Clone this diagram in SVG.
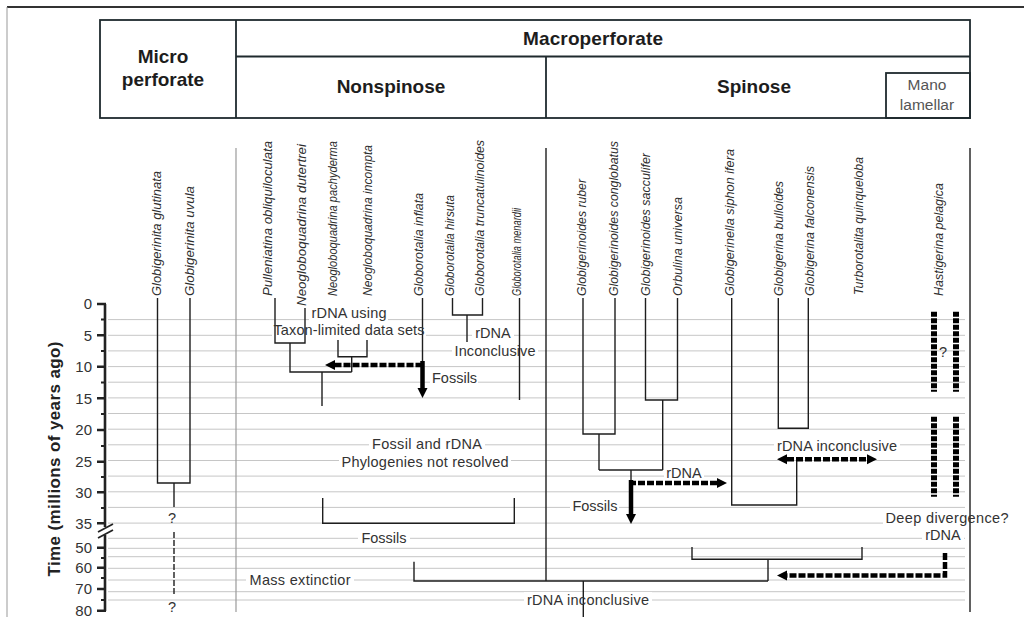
<svg xmlns="http://www.w3.org/2000/svg" width="1024" height="617" viewBox="0 0 1024 617">
<style>
.hdr{fill:none;stroke:#1f2a2e;stroke-width:1.8}
.ht{font-family:"Liberation Sans",Arial,sans-serif;font-weight:bold;font-size:19px;fill:#1d1d1d;text-anchor:middle}
.hs{font-family:"Liberation Sans",Arial,sans-serif;font-size:15.5px;fill:#555;text-anchor:middle}
.sp{font-family:"Liberation Sans",Arial,sans-serif;font-style:italic;font-size:12.5px;fill:#2e2e2e}
.lb{font-family:"Liberation Sans",Arial,sans-serif;font-size:14.5px;fill:#333}
.lbm{font-family:"Liberation Sans",Arial,sans-serif;font-size:14.5px;fill:#333;text-anchor:middle}
.ax{font-family:"Liberation Sans",Arial,sans-serif;font-size:15px;fill:#333;text-anchor:end}
.grid line{stroke:#c6c6c6;stroke-width:1}
.tree{fill:none;stroke:#1e1e1e;stroke-width:1.4}
.thick{fill:none;stroke:#000;stroke-width:4.5}
.dash{stroke-dasharray:7 2}
.bg{fill:#fff}
</style>
<defs>
<marker id="ah" markerUnits="userSpaceOnUse" markerWidth="10" markerHeight="11" viewBox="0 0 10 10" refX="0" refY="5" orient="auto-start-reverse">
<path d="M0,0 L10,5 L0,10 z" fill="#000"/>
</marker>
</defs>
<rect width="1024" height="617" fill="#fff"/>
<line x1="7" y1="7" x2="1024" y2="7" stroke="#333" stroke-width="2"/>
<line x1="7" y1="7" x2="7" y2="617" stroke="#999" stroke-width="1"/>

<g id="header">
<rect class="hdr" x="100" y="20" width="870" height="98"/>
<line class="hdr" x1="236" y1="20" x2="236" y2="118"/>
<line class="hdr" x1="236" y1="56.5" x2="970" y2="56.5"/>
<line class="hdr" x1="546" y1="56.5" x2="546" y2="118"/>
<rect class="hdr" x="886" y="73" width="84" height="45"/>
<text class="ht" x="163" y="63">Micro</text>
<text class="ht" x="163" y="86">perforate</text>
<text class="ht" x="593" y="45" textLength="140">Macroperforate</text>
<text class="ht" x="391" y="93">Nonspinose</text>
<text class="ht" x="754" y="93">Spinose</text>
<text class="hs" x="927" y="90">Mano</text>
<text class="hs" x="927" y="110">lamellar</text>
</g>

<g id="grid" class="grid">
<line x1="108" y1="319.6" x2="965" y2="319.6"/>
<line x1="108" y1="335.3" x2="965" y2="335.3"/>
<line x1="108" y1="350.9" x2="965" y2="350.9"/>
<line x1="108" y1="366.6" x2="965" y2="366.6"/>
<line x1="108" y1="382.2" x2="965" y2="382.2"/>
<line x1="108" y1="397.9" x2="965" y2="397.9"/>
<line x1="108" y1="413.5" x2="965" y2="413.5"/>
<line x1="108" y1="429.2" x2="965" y2="429.2"/>
<line x1="108" y1="444.8" x2="965" y2="444.8"/>
<line x1="108" y1="460.5" x2="965" y2="460.5"/>
<line x1="108" y1="476.1" x2="965" y2="476.1"/>
<line x1="108" y1="491.8" x2="965" y2="491.8"/>
<line x1="108" y1="507.4" x2="965" y2="507.4"/>
<line x1="108" y1="523.1" x2="965" y2="523.1"/>
<line x1="108" y1="538.3" x2="965" y2="538.3"/>
<line x1="108" y1="548.3" x2="965" y2="548.3"/>
<line x1="108" y1="556.7" x2="965" y2="556.7"/>
<line x1="108" y1="568.3" x2="965" y2="568.3"/>
<line x1="108" y1="580" x2="965" y2="580"/>
<line x1="108" y1="591.7" x2="965" y2="591.7"/>
<line x1="108" y1="600" x2="965" y2="600"/>
</g>

<g id="label-backgrounds">
<rect class="bg" x="309" y="305" width="79" height="17"/>
<rect class="bg" x="272" y="322" width="154" height="17"/>
<rect class="bg" x="472" y="325" width="42" height="17"/>
<rect class="bg" x="452" y="343" width="86" height="18"/>
<rect class="bg" x="430" y="370" width="48" height="17"/>
<rect class="bg" x="369" y="436" width="116" height="17"/>
<rect class="bg" x="339" y="454" width="172" height="18"/>
<rect class="bg" x="358" y="530" width="52" height="17"/>
<rect class="bg" x="246" y="572" width="108" height="17"/>
<rect class="bg" x="524" y="592" width="128" height="17"/>
<rect class="bg" x="664" y="465" width="40" height="16"/>
<rect class="bg" x="570" y="497" width="49" height="17"/>
<rect class="bg" x="774" y="438" width="126" height="17"/>
<rect class="bg" x="883" y="510" width="128" height="18"/>
<rect class="bg" x="922" y="527" width="42" height="17"/>
</g>

<g id="dividers">
<line x1="236" y1="148" x2="236" y2="612" stroke="#9a9a9a" stroke-width="1.2"/>
<line x1="546" y1="148" x2="546" y2="581" stroke="#1e1e1e" stroke-width="1.4"/>
<line x1="970" y1="148" x2="970" y2="612" stroke="#1e1e1e" stroke-width="1.4"/>
</g>

<g id="axis">
<text x="60" y="459" transform="rotate(-90 60 459)" font-family="Liberation Sans, Arial, sans-serif" font-weight="bold" font-size="17" fill="#222" text-anchor="middle" textLength="235">Time (millions of years ago)</text>
<path d="M105,304 V527 M105,535 V611" fill="none" stroke="#222" stroke-width="2.6"/>
<path d="M97,304 H106 M97,335.3 H106 M97,366.7 H106 M97,398.3 H106 M97,430 H106 M97,461.7 H106 M97,492.3 H106 M97,523.3 H106 M97,547.7 H106 M97,567.7 H106 M97,589 H106 M97,610.7 H106" stroke="#222" stroke-width="2.4"/>
<path d="M101,319.6 H106 M101,351 H106 M101,382.5 H106 M101,414 H106 M101,446 H106 M101,477 H106 M101,508 H106 M101,558 H106 M101,578 H106 M101,600 H106" stroke="#222" stroke-width="2"/>
<path d="M98,532 L113,524 M98,538 L113,530" stroke="#222" stroke-width="1.8"/>
<text class="ax" x="92" y="309">0</text>
<text class="ax" x="92" y="340.5">5</text>
<text class="ax" x="92" y="372">10</text>
<text class="ax" x="92" y="403.5">15</text>
<text class="ax" x="92" y="435">20</text>
<text class="ax" x="92" y="467">25</text>
<text class="ax" x="92" y="497.5">30</text>
<text class="ax" x="92" y="528.5">35</text>
<text class="ax" x="92" y="553">50</text>
<text class="ax" x="92" y="573">60</text>
<text class="ax" x="92" y="594">70</text>
<text class="ax" x="92" y="616">80</text>
</g>

<g id="connectors">
<g class="tree">
<path d="M157.5,298 V483 H190 V298"/>
<path d="M174,483 V507"/>
<path d="M174,532 V595" stroke-dasharray="6 2"/>
<path d="M275,298 V343 H305 V308"/>
<path d="M290,343 V372 H351.7"/>
<path d="M338,340 V356.7 H367 V340"/>
<path d="M351.7,356.7 V372"/>
<path d="M322,372 V406"/>
<path d="M422.5,298 V362"/>
<path d="M452.5,298 V315 H482.5 V298"/>
<path d="M467,315 V342"/>
<path d="M519.5,298 V400"/>
<path d="M322.7,498 V523.3 H514.3 V498"/>
<path d="M414,561.7 V581 H768"/>
<path d="M692,547 V559.3 H862 V547"/>
<path d="M768,559.3 V581"/>
<path d="M583.3,581 V617"/>
<path d="M583,298 V434 H615 V298"/>
<path d="M599,434 V470"/>
<path d="M645.5,298 V400 H677.5 V298"/>
<path d="M662.7,400 V470"/>
<path d="M599,470 H662.7"/>
<path d="M631,470 V482"/>
<path d="M731.7,298 V505 H796.7 V459"/>
<path d="M778.3,298 V428.3 H808.3 V298"/>
</g>
<path class="thick dash" d="M422.5,365 H335" marker-end="url(#ah)"/>
<path class="thick" d="M422.5,361 V388" marker-end="url(#ah)"/>
<path class="thick" d="M631,480 V514" marker-end="url(#ah)"/>
<path class="thick dash" d="M629,483 H717" marker-end="url(#ah)"/>
<path class="thick dash" d="M787,459.3 H867" marker-start="url(#ah)" marker-end="url(#ah)"/>
<path class="thick dash" d="M945,553 V575.5 H787" marker-end="url(#ah)"/>
<g id="hastigerina-range" fill="none" stroke="#000" stroke-width="6" stroke-dasharray="5 1.5">
<path d="M934,311.7 V391.7 M934,416.7 V496.7"/>
<path d="M956,311.7 V391.7 M956,416.7 V496.7"/>
</g>
</g>

<g id="species">
<g id="sp-glutinata"><text class="sp" transform="translate(161,296) rotate(-90)" textLength="125" lengthAdjust="spacingAndGlyphs">Globigerinita glutinata</text></g>
<g id="sp-uvula"><text class="sp" transform="translate(194,296) rotate(-90)" textLength="110" lengthAdjust="spacingAndGlyphs">Globigerinita uvula</text></g>
<g id="sp-obliquiloculata"><text class="sp" transform="translate(271.5,296) rotate(-90)" textLength="155" lengthAdjust="spacingAndGlyphs">Pulleniatina obliquiloculata</text></g>
<g id="sp-dutertrei"><text class="sp" transform="translate(306,306) rotate(-90)" textLength="162" lengthAdjust="spacingAndGlyphs">Neogloboquadrina dutertrei</text></g>
<g id="sp-pachyderma"><text class="sp" transform="translate(337,296) rotate(-90)" textLength="155" lengthAdjust="spacingAndGlyphs">Neogloboquadrina pachyderma</text></g>
<g id="sp-incompta"><text class="sp" transform="translate(372,296) rotate(-90)" textLength="151" lengthAdjust="spacingAndGlyphs">Neogloboquadrina incompta</text></g>
<g id="sp-inflata"><text class="sp" transform="translate(422.5,296) rotate(-90)" textLength="103" lengthAdjust="spacingAndGlyphs">Globorotalia inflata</text></g>
<g id="sp-hirsuta"><text class="sp" transform="translate(454,296) rotate(-90)" textLength="101" lengthAdjust="spacingAndGlyphs">Globorotalia hirsuta</text></g>
<g id="sp-truncatulinoides"><text class="sp" transform="translate(484,296) rotate(-90)" textLength="156" lengthAdjust="spacingAndGlyphs">Globorotalia truncatulinoides</text></g>
<g id="sp-menardii"><text class="sp" transform="translate(521,296) rotate(-90)" textLength="88" lengthAdjust="spacingAndGlyphs">Globorotalia menardii</text></g>
<g id="sp-ruber"><text class="sp" transform="translate(586,296) rotate(-90)" textLength="117" lengthAdjust="spacingAndGlyphs">Globigerinoides ruber</text></g>
<g id="sp-conglobatus"><text class="sp" transform="translate(617.5,296) rotate(-90)" textLength="155" lengthAdjust="spacingAndGlyphs">Globigerinoides conglobatus</text></g>
<g id="sp-sacculifer"><text class="sp" transform="translate(650,296) rotate(-90)" textLength="143" lengthAdjust="spacingAndGlyphs">Globigerinoides sacculifer</text></g>
<g id="sp-universa"><text class="sp" transform="translate(681.5,296) rotate(-90)" textLength="99" lengthAdjust="spacingAndGlyphs">Orbulina universa</text></g>
<g id="sp-siphonifera"><text class="sp" transform="translate(734,296) rotate(-90)" textLength="147" lengthAdjust="spacingAndGlyphs">Globigerinella siphon ifera</text></g>
<g id="sp-bulloides"><text class="sp" transform="translate(782.5,296) rotate(-90)" textLength="115" lengthAdjust="spacingAndGlyphs">Globigerina bulloides</text></g>
<g id="sp-falconensis"><text class="sp" transform="translate(814,296) rotate(-90)" textLength="130" lengthAdjust="spacingAndGlyphs">Globigerina falconensis</text></g>
<g id="sp-quinqueloba"><text class="sp" transform="translate(862.5,295) rotate(-90)" textLength="138" lengthAdjust="spacingAndGlyphs">Turborotalita quinqueloba</text></g>
<g id="sp-pelagica"><text class="sp" transform="translate(942.5,296) rotate(-90)" textLength="113" lengthAdjust="spacingAndGlyphs">Hastigerina pelagica</text></g>
</g>

<g id="annotations">
<text class="lbm" x="349" y="318" textLength="75">rDNA using</text>
<text class="lbm" x="349" y="335" textLength="151">Taxon-limited data sets</text>
<text class="lbm" x="493" y="338">rDNA</text>
<text class="lbm" x="495" y="356" textLength="81">Inconclusive</text>
<text class="lb" x="432" y="383">Fossils</text>
<text class="lbm" x="427" y="449" textLength="110">Fossil and rDNA</text>
<text class="lbm" x="425" y="467" textLength="167">Phylogenies not resolved</text>
<text class="lbm" x="384" y="543">Fossils</text>
<text class="lbm" x="300" y="585" textLength="101">Mass extinctior</text>
<text class="lbm" x="588" y="605" textLength="122">rDNA inconclusive</text>
<text class="lbm" x="684" y="478">rDNA</text>
<text class="lbm" x="595" y="511">Fossils</text>
<text class="lbm" x="837" y="451" textLength="120">rDNA inconclusive</text>
<text class="lbm" x="947" y="523" textLength="123">Deep divergence?</text>
<text class="lbm" x="943" y="540">rDNA</text>
<text class="lbm" x="943" y="357">?</text>
<text class="lbm" x="172" y="523">?</text>
<text class="lbm" x="172" y="612">?</text>
</g>
</svg>
